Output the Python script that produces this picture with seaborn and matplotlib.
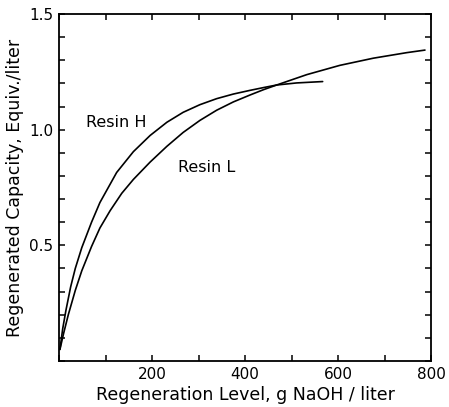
import matplotlib
matplotlib.use("Agg")
import matplotlib.pyplot as plt
import seaborn as sns
import pandas as pd
from matplotlib.ticker import MultipleLocator, FixedLocator

sns.set_theme(style="ticks")
plt.rcParams['font.family'] = ['DejaVu Sans']

resin_h_x = [2, 8, 15, 25, 35, 49, 70, 88, 124, 160, 196, 232, 267, 303, 339, 375, 411, 440, 468,
             511, 567]
resin_h_y = [0.05, 0.14, 0.22, 0.32, 0.40, 0.49, 0.60, 0.685, 0.815, 0.905, 0.975, 1.032, 1.075,
             1.108, 1.134, 1.154, 1.17, 1.182, 1.193, 1.202, 1.208]
resin_l_x = [2, 10, 20, 35, 49, 70, 88, 110, 135, 160, 196, 232, 267, 303, 339, 375, 411, 440, 468,
             533, 604, 676, 748, 787]
resin_l_y = [0.05, 0.12, 0.20, 0.305, 0.39, 0.495, 0.575, 0.65, 0.725, 0.785, 0.86, 0.928, 0.988,
             1.04, 1.084, 1.12, 1.15, 1.173, 1.193, 1.238, 1.278, 1.309, 1.333, 1.344]
x_tick_labels = ["200", "400", "600", "800"]
y_tick_labels = ["0.5", "1.0", "1.5"]

df = pd.concat([
    pd.DataFrame({"x": resin_h_x, "y": resin_h_y, "resin": "Resin H"}),
    pd.DataFrame({"x": resin_l_x, "y": resin_l_y, "resin": "Resin L"}),
])

fig = plt.figure(figsize=(4.49, 4.07), dpi=100)
ax = fig.add_axes([59/449, 1-361/407, (431-59)/449, (361-14)/407])
sns.lineplot(data=df, x="x", y="y", units="resin", estimator=None, sort=False,
             color="black", linewidth=1.2, ax=ax, legend=False)

ax.set_xlim(0, 800)
ax.set_ylim(0, 1.5)
ax.xaxis.set_major_locator(FixedLocator([200, 400, 600, 800]))
ax.set_xticklabels(x_tick_labels)
ax.xaxis.set_minor_locator(MultipleLocator(100))
ax.yaxis.set_major_locator(FixedLocator([0.5, 1.0, 1.5]))
ax.set_yticklabels(y_tick_labels)
ax.yaxis.set_minor_locator(MultipleLocator(0.1))
ax.tick_params(which="both", direction="in", top=True, right=True, color="black",
               width=1.1, labelsize=11, labelcolor="black")
ax.tick_params(which="major", length=4, pad=4)
ax.tick_params(which="minor", length=4)
for s in ax.spines.values():
    s.set_color("black")
    s.set_linewidth(1.3)

ax.set_xlabel("Regeneration Level, g NaOH / liter", fontsize=12.5, color="black", labelpad=3)
ax.set_ylabel("Regenerated Capacity, Equiv./liter", fontsize=12.5, color="black", labelpad=4)

ax.text(59, 1.012, "Resin H", fontsize=11.5, color="black")
ax.text(256, 0.818, "Resin L", fontsize=11.5, color="black")

fig.savefig("out.png", dpi=100, facecolor="white")
